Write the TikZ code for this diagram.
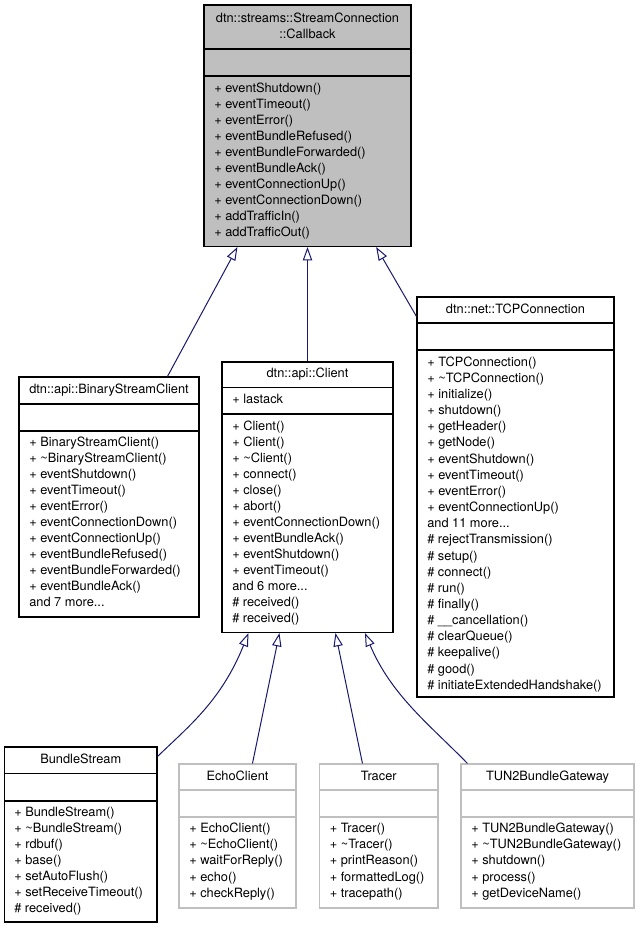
\documentclass[tikz,border=0pt]{standalone}
\usepackage{fontspec}
\setmainfont{TeX Gyre Heros}
\usetikzlibrary{arrows.meta,fit,calc}
\definecolor{grey75}{HTML}{BFBFBF}
\definecolor{navyline}{HTML}{191970}
\newcommand\mdots{...}

\newcommand\umlbox[9]{%
  \coordinate (#3-nw) at (#4,#6);
  \coordinate (#3-se) at (#5,#9);
  \node[fit=(#3-nw)(#3-se), inner sep=0pt, #1] (#3) {};
  \draw[draw=#2, line width=0.8pt] (#4,#7) -- (#5,#7) (#4,#8) -- (#5,#8);
}
\newcommand\members[5]{%
  \foreach \mtxt [count=\mi from 0] in {#5} {
    \node[mem] (#1-\mi) at (#2, {#3+\mi*#4}) {\mtxt};
  }}

\begin{document}
\begin{tikzpicture}[x=0.75pt, y=-0.75pt,
  dbox/.style={draw=black, line width=0.8pt},
  gbox/.style={draw=grey75, line width=0.8pt},
  mem/.style={anchor=west, inner sep=0pt, font=\fontsize{9.6}{11.5}\selectfont, text height=7pt, text depth=2.2pt},
  ttl/.style={anchor=center, inner sep=0pt, font=\fontsize{9.6}{11.5}\selectfont, text height=7pt, text depth=2.2pt},
  inh/.style={draw=navyline, line width=0.75pt, -{Triangle[open, length=10pt, width=7pt]}}]
\useasboundingbox (0,0) rectangle (640,931);
\fill[white] (0,0) rectangle (640,931);

% ---- Callback (top) ----
\umlbox{dbox, fill=grey75}{black}{cb}{204}{411}{5}{49}{76}{246.5}
\node[ttl] (cb-t1) at (307.5,19.5) {dtn::streams::StreamConnection};
\node[ttl] (cb-t2) at (307.5,35) {::Callback};
\members{cb}{214}{89}{16}{+ eventShutdown(),+ eventTimeout(),+ eventError(),+ eventBundleRefused(),+ eventBundleForwarded(),+ eventBundleAck(),+ eventConnectionUp(),+ eventConnectionDown(),+ addTrafficIn(),+ addTrafficOut()}

% ---- BinaryStreamClient ----
\umlbox{dbox}{black}{bsc}{19}{199}{377}{404}{431}{617}
\node[ttl] (bsc-t) at (109,390.5) {dtn::api::BinaryStreamClient};
\members{bsc}{29}{443.5}{16}{+ BinaryStreamClient(),+ \textasciitilde BinaryStreamClient(),+ eventShutdown(),+ eventTimeout(),+ eventError(),+ eventConnectionDown(),+ eventConnectionUp(),+ eventBundleRefused(),+ eventBundleForwarded(),+ eventBundleAck(),and 7 more\mdots}

% ---- Client ----
\umlbox{dbox}{black}{client}{222}{393}{362}{387.5}{414}{632.5}
\node[ttl] (client-t) at (307.5,374.5) {dtn::api::Client};
\node[mem] (client-a) at (232,400.5) {+ lastack};
\members{client}{232}{427}{16}{+ Client(),+ Client(),+ \textasciitilde Client(),+ connect(),+ close(),+ abort(),+ eventConnectionDown(),+ eventBundleAck(),+ eventShutdown(),+ eventTimeout(),and 6 more\mdots,\# received(),\# received()}

% ---- TCPConnection ----
\umlbox{dbox}{black}{tcp}{417}{614}{297}{323}{350}{697}
\node[ttl] (tcp-t) at (515.5,310) {dtn::net::TCPConnection};
\members{tcp}{427}{363}{16.15}{+ TCPConnection(),+ \textasciitilde TCPConnection(),+ initialize(),+ shutdown(),+ getHeader(),+ getNode(),+ eventShutdown(),+ eventTimeout(),+ eventError(),+ eventConnectionUp(),and 11 more\mdots,\# rejectTransmission(),\# setup(),\# connect(),\# run(),\# finally(),\# \_\_cancellation(),\# clearQueue(),\# keepalive(),\# good(),\# initiateExtendedHandshake()}

% ---- BundleStream ----
\umlbox{dbox}{black}{bs}{4.5}{157}{747}{773.5}{801}{922}
\node[ttl] (bs-t) at (80.75,760.5) {BundleStream};
\members{bs}{14}{813.5}{16}{+ BundleStream(),+ \textasciitilde BundleStream(),+ rdbuf(),+ base(),+ setAutoFlush(),+ setReceiveTimeout(),\# received()}

% ---- EchoClient ----
\umlbox{gbox}{grey75}{ec}{179}{296}{764}{790}{817}{908}
\node[ttl] (ec-t) at (237.5,777) {EchoClient};
\members{ec}{189}{829}{16.3}{+ EchoClient(),+ \textasciitilde EchoClient(),+ waitForReply(),+ echo(),+ checkReply()}

% ---- Tracer ----
\umlbox{gbox}{grey75}{tr}{319.5}{438}{764}{790}{817}{908}
\node[ttl] (tr-t) at (378.75,777) {Tracer};
\members{tr}{329.5}{829}{16.3}{+ Tracer(),+ \textasciitilde Tracer(),+ printReason(),+ formattedLog(),+ tracepath()}

% ---- TUN2BundleGateway ----
\umlbox{gbox}{grey75}{tg}{461}{634}{764}{790}{817}{908}
\node[ttl] (tg-t) at (547.5,777) {TUN2BundleGateway};
\members{tg}{471}{829}{16.3}{+ TUN2BundleGateway(),+ \textasciitilde TUN2BundleGateway(),+ shutdown(),+ process(),+ getDeviceName()}

% ---- inheritance connectors ----
\draw[inh] ($(bsc.north west)+(149,0)$) -- ($(cb.south west)+(34,0)$);
\draw[inh] (client.north) -- (cb.south);
\draw[inh] ($(tcp.north west)+(0,20)$) -- ($(cb.south west)+(172.7,0)$);

\draw[inh] ($(bs.north east)+(0,10)$) .. controls ($(bs.north east)+(31,-20)$) and ($(client.south west)+(0,67.5)$) .. ($(client.south west)+(27,0)$);
\draw[inh] ($(ec.north west)+(74,0)$) -- ($(client.south west)+(58,0)$);
\draw[inh] ($(tr.north west)+(43.5,0)$) -- ($(client.south west)+(114,0)$);
\draw[inh] ($(tg.north west)+(7,0)$) .. controls ($(tg.north west)+(-31,-39)$) and ($(client.south west)+(170,62.5)$) .. ($(client.south west)+(143.5,0)$);
\end{tikzpicture}
\end{document}
